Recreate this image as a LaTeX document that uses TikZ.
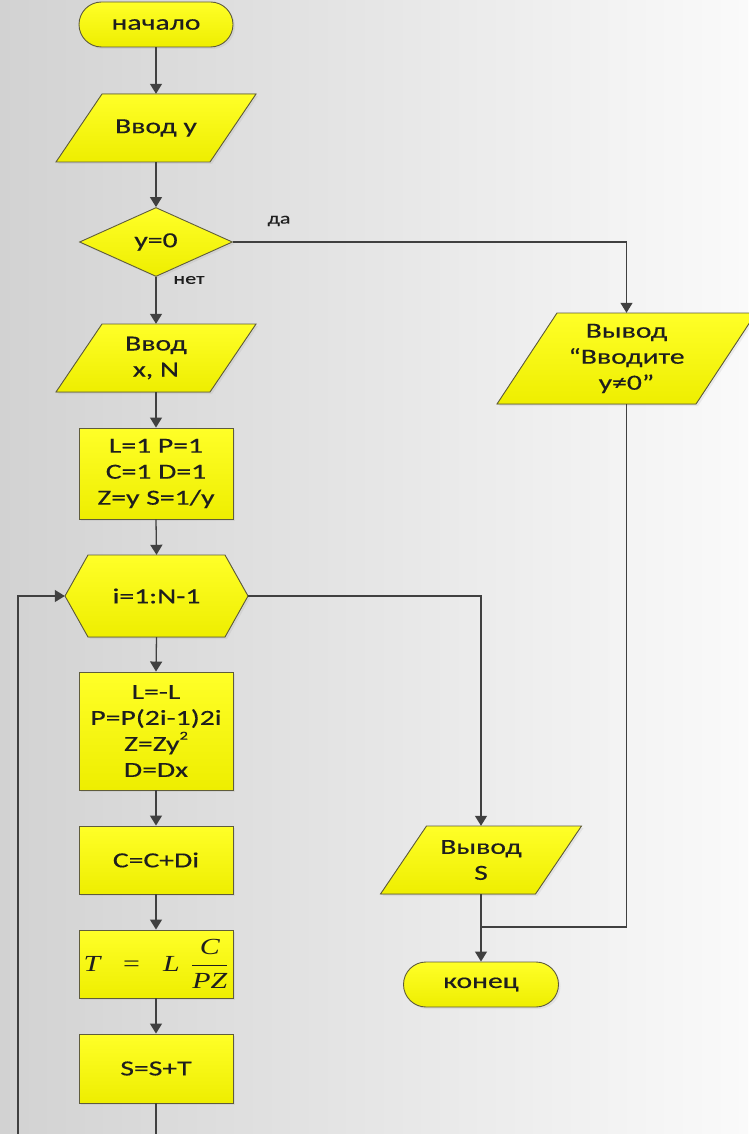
\documentclass[tikz,border=0pt]{standalone}
\usepackage{fontspec}
\setmainfont{Carlito}[FakeStretch=1.38,FakeBold=0.4]
\newfontfamily\tnr{Liberation Serif}[FakeStretch=1.3]
\usetikzlibrary{arrows.meta,shapes.geometric,shapes.misc,calc,shadows}
\definecolor{bgL}{RGB}{210,210,210}
\definecolor{bgR}{RGB}{250,250,250}
\definecolor{yelT}{RGB}{255,255,40}
\definecolor{yelB}{RGB}{238,238,0}
\definecolor{bord}{RGB}{95,92,60}
\definecolor{linec}{RGB}{64,64,64}
\definecolor{txtc}{RGB}{30,30,30}
\tikzset{
  shp/.style={draw=bord, line width=0.9pt, top color=yelT, bottom color=yelB,
    drop shadow={opacity=0.12, shadow xshift=2pt, shadow yshift=-2pt}},
  txt/.style={text=txtc, font=\fontsize{21.5}{26}\selectfont, align=center, inner sep=0pt},
  box/.style={shp, txt, rectangle, minimum width=154pt},
  term/.style={shp, txt, rounded rectangle, minimum width=154pt, minimum height=45pt},
  dia/.style={shp, txt, diamond, minimum width=153pt, minimum height=69pt},
  lbl/.style={text=txtc, font=\fontsize{16}{19}\selectfont, inner sep=0pt},
  conn/.style={draw=linec, line width=1.3pt},
  arr/.style={conn, -{Triangle[width=12pt,length=10pt]}},
}
\newcommand\iopara[7]{%
  \filldraw[shp] (#2-#4+#6,#3-#5) -- (#2+#4+#6,#3-#5) -- (#2+#4-#6,#3+#5) -- (#2-#4-#6,#3+#5) -- cycle;
  \node[txt, minimum width={2*#4}, minimum height={2*#5}] (#1) at (#2,#3) {#7};
}
\begin{document}
\begin{tikzpicture}[x=1pt,y=-1pt]
\shade[left color=bgL, right color=bgR] (0,0) rectangle (748,1134);
\useasboundingbox (0,0) rectangle (748,1134);

\node[term] (start) at (156,24.5) {начало};
\iopara{in1}{156}{128}{77}{34}{23}{Ввод y}
\node[dia] (dec) at (156,242) {y=0};
\iopara{in2}{156}{358}{77}{34}{23}{Ввод\\x, N}
\node[box, minimum height=91pt] (init) at (156,473.5) {L=1 P=1\\C=1 D=1\\Z=y S=1/y};
\filldraw[shp] (65,596) -- (88,555) -- (225,555) -- (248,596) -- (225,637) -- (88,637) -- cycle;
\node[txt, minimum width=183pt, minimum height=82pt] (loop) at (156.5,596) {i=1:N-1};
\node[box, minimum height=118pt] (body) at (156,731) {L=-L\\P=P(2i-1)2i\\Z=Zy\raisebox{1.1ex}{\fontsize{12}{12}\selectfont 2}\\D=Dx};
\node[box, minimum height=68pt] (cc) at (156,860) {C=C+Di};
\node[box, minimum height=68pt] (tt) at (156,964) {\fontsize{23}{27}\selectfont\hbox{\tnr\itshape T\quad{\upshape =}\quad L\enspace}$\displaystyle\frac{\hbox{\tnr\itshape\ C\ }}{\hbox{\tnr\itshape PZ}}$};
\node[box, minimum height=69pt] (ss) at (156,1068.5) {S=S+T};
\iopara{out1}{626.5}{358.5}{99.5}{45.5}{30}{Вывод\\“Вводите\\y≠0”}
\iopara{outS}{481}{860}{77.5}{34}{23}{Вывод\\S}
\node[term, minimum width=155pt] (endn) at (481,984.5) {конец};

\node[lbl] (yes) at (279,221) {да};
\node[lbl] (no) at (189,280) {нет};

\coordinate (j) at (481,927);
\coordinate (lb) at (18,1160);

\draw[arr] (start.south) -- (in1.north);
\draw[arr] (in1.south) -- (dec.north);
\draw[arr] (dec.south) -- (in2.north);
\draw[arr] (dec.east) -| (out1.north);
\draw[arr] (in2.south) -- (init.north);
\draw[arr] (init.south) -- (loop.north);
\draw[arr] (loop.south) -- (body.north);
\draw[arr] (body.south) -- (cc.north);
\draw[arr] (cc.south) -- (tt.north);
\draw[arr] (tt.south) -- (ss.north);
\draw[arr] (loop.east) -| (outS.north);
\draw[conn] (out1.south) |- (j);
\draw[arr] (outS.south) -- (endn.north);
\draw[arr] (ss.south) |- (lb) |- (loop.west);
\end{tikzpicture}
\end{document}
